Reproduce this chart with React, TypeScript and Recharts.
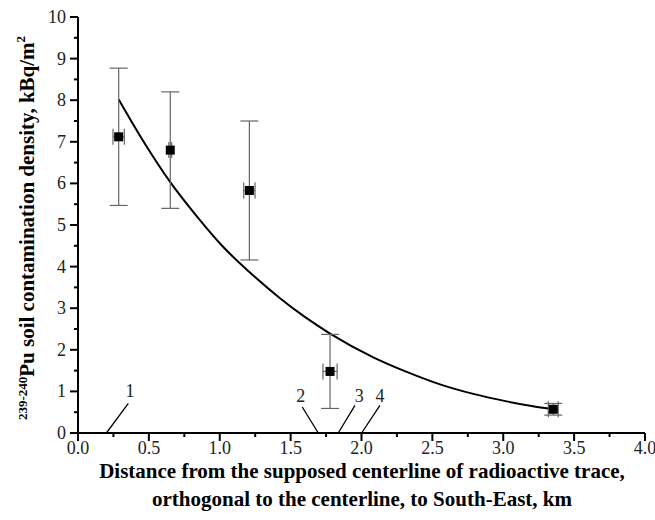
import React from "react";
import {
  ComposedChart,
  Line,
  Scatter,
  ErrorBar,
  XAxis,
  YAxis,
  ReferenceLine,
  ReferenceDot,
  Label,
} from "recharts";

// measured points (distance km, density kBq/m2, errors)
const pointX = [0.287, 0.651, 1.209, 1.778, 3.353];
const pointY = [7.12, 6.8, 5.83, 1.48, 0.57];
const pointErrY = [1.65, 1.4, 1.67, 0.89, 0.14];
const pointErrX = [0.04, 0.01, 0.04, 0.05, 0.035];

// fitted curve
const curveX = [0.287, 0.46, 0.651, 0.85, 1.025, 1.209, 1.425, 1.6, 1.778, 2.083, 2.319, 2.554, 2.789, 3.024, 3.2, 3.353];
const curveY = [8.02, 7.02, 6.03, 5.16, 4.47, 3.87, 3.24, 2.79, 2.39, 1.82, 1.47, 1.17, 0.94, 0.76, 0.65, 0.57];

// numbered markers near the x axis
const markerNames = ["1", "2", "3", "4"];
const markerFoot = [0.2, 1.695, 1.836, 2.001];
const markerTopX = [0.355, 1.582, 1.954, 2.13];
const markerTopY = [0.71, 0.625, 0.666, 0.666];
const markerLabelX = [0.367, 1.571, 1.985, 2.13];
const markerLabelY = [1.03, 0.9, 0.9, 0.9];

const xTicks = Array.from({ length: 17 }, (_, i) => i * 0.25);
const yTicks = Array.from({ length: 21 }, (_, i) => i * 0.5);

const points = pointX.map((x, i) => ({ x, y: pointY[i], ey: pointErrY[i], ex: pointErrX[i] }));
const curve = curveX.map((x, i) => ({ x, y: curveY[i] }));

const FONT = '"Liberation Serif", "Times New Roman", serif';
const TICK_COLOR = "#222";

const XTick = (props: any) => {
  const { x, y, payload } = props;
  const v = payload.value;
  const major = Math.abs(v * 2 - Math.round(v * 2)) < 1e-6;
  return (
    <g>
      <line x1={x} x2={x} y1={y} y2={y + (major ? 8 : 4)} stroke="#000" strokeWidth={2} />
      {major && (
        <text x={x} y={y + 21} textAnchor="middle" fontSize={18} fontFamily={FONT} fill={TICK_COLOR}>
          {v.toFixed(1)}
        </text>
      )}
    </g>
  );
};

const YTick = (props: any) => {
  const { x, y, payload } = props;
  const v = payload.value;
  const major = Math.abs(v - Math.round(v)) < 1e-6;
  return (
    <g>
      <line x1={x} x2={x - (major ? 8 : 4)} y1={y} y2={y} stroke="#000" strokeWidth={2} />
      {major && (
        <text x={x - 12} y={y + 6} textAnchor="end" fontSize={18} fontFamily={FONT} fill={TICK_COLOR}>
          {String(v)}
        </text>
      )}
    </g>
  );
};

const Square = (props: any) => {
  const { cx, cy } = props;
  return <rect x={cx - 4.5} y={cy - 4.5} width={9} height={9} fill="#000" />;
};

export default function App() {
  return (
    <div style={{ position: "absolute", left: 0, top: 0, width: 655, height: 520, background: "#fff" }}>
      <ComposedChart
        width={655}
        height={520}
        margin={{ top: 17, right: 10, bottom: 0, left: 18 }}
      >
        <XAxis
          dataKey="x"
          type="number"
          domain={[0, 4]}
          ticks={xTicks}
          interval={0}
          height={87}
          tickSize={0}
          tickMargin={0}
          tickLine={false}
          tick={<XTick />}
          axisLine={{ stroke: "#000", strokeWidth: 2 }}
        >
          <Label
            content={() => (
              <text textAnchor="middle" fontSize={21} fontWeight="bold" fontFamily={FONT} fill="#000">
                <tspan x={362} y={478}>Distance from the supposed centerline of radioactive trace,</tspan>
                <tspan x={362} y={506}>orthogonal to the centerline, to South-East, km</tspan>
              </text>
            )}
          />
        </XAxis>
        <YAxis
          dataKey="y"
          type="number"
          domain={[0, 10]}
          ticks={yTicks}
          interval={0}
          width={60}
          tickSize={0}
          tickMargin={0}
          tickLine={false}
          tick={<YTick />}
          axisLine={{ stroke: "#000", strokeWidth: 2 }}
        >
          <Label
            content={() => (
              <text
                transform="translate(34,228) rotate(-90)"
                textAnchor="middle"
                fontSize={21}
                fontWeight="bold"
                fontFamily={FONT}
                fill="#000"
              >
                <tspan fontSize={13} dy={-7}>239-240</tspan>
                <tspan dy={7}>Pu soil contamination density, kBq/m</tspan>
                <tspan fontSize={13} dy={-9}>2</tspan>
              </text>
            )}
          />
        </YAxis>

        {markerNames.map((n, i) => (
          <ReferenceLine
            key={"ml" + n}
            segment={[
              { x: markerFoot[i], y: 0 },
              { x: markerTopX[i], y: markerTopY[i] },
            ]}
            stroke="#000"
            strokeWidth={1.3}
          />
        ))}
        {markerNames.map((n, i) => (
          <ReferenceDot
            key={"md" + n}
            x={markerLabelX[i]}
            y={markerLabelY[i]}
            r={0}
            stroke="none"
            label={{ value: n, position: "center", fontSize: 18, fontFamily: FONT, fill: "#222" }}
          />
        ))}

        <Line
          data={curve}
          dataKey="y"
          type="monotone"
          stroke="#000"
          strokeWidth={2}
          dot={false}
          activeDot={false}
          isAnimationActive={false}
        />
        <Scatter data={points} dataKey="y" shape={<Square />} isAnimationActive={false}>
          <ErrorBar dataKey="ey" direction="y" width={9} stroke="#666" strokeWidth={1.2} />
          <ErrorBar dataKey="ex" direction="x" width={8} stroke="#666" strokeWidth={1.2} />
        </Scatter>
      </ComposedChart>
    </div>
  );
}
